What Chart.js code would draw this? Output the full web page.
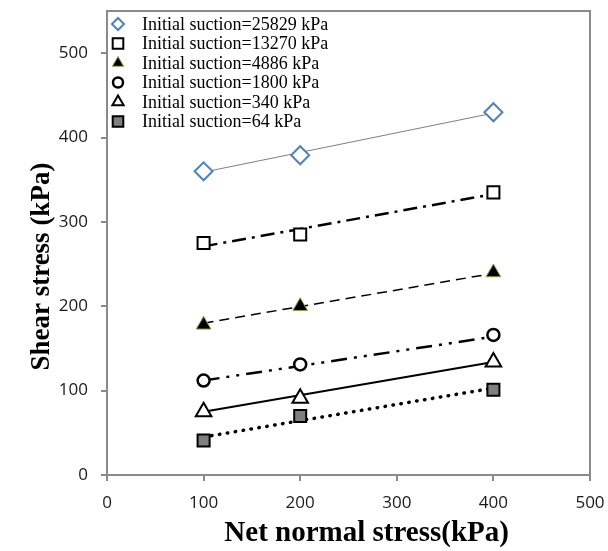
<!DOCTYPE html>
<html>
<head>
<meta charset="utf-8">
<script src="https://cdn.jsdelivr.net/npm/chart.js@4"></script>
<style>
  html, body { margin: 0; padding: 0; background: #fff; }
  #wrap { width: 608px; height: 551px; position: relative; }
</style>
</head>
<body>
<div id="wrap"><canvas id="shearChart"></canvas></div>
<script>
// Net normal stress (kPa) at which the tests were run
const netStress = [100, 200, 400];

// Measured shear stress (kPa) for each initial suction
const shear25829 = [360, 379, 430];
const shear13270 = [275, 285, 335];
const shear4886 = [178, 200, 240];
const shear1800 = [112, 131, 166];
const shear340 = [75, 91, 134];
const shear64 = [41, 70, 101];

// Trend lines, read at their two ends
const trendX = [100, 400];
const trend25829 = [359, 429];
const trend13270 = [271, 333];
const trend4886 = [180, 239];
const trend1800 = [112, 164];
const trend340 = [75, 134];
const trend64 = [45, 103];

const suctionLabels = [
  "Initial suction=25829 kPa",
  "Initial suction=13270 kPa",
  "Initial suction=4886 kPa",
  "Initial suction=1800 kPa",
  "Initial suction=340 kPa",
  "Initial suction=64 kPa",
];

const xTicks = [0, 100, 200, 300, 400, 500];
const yTicks = [0, 100, 200, 300, 400, 500];

const AXIS_GREY = "#8a8a8a";
const SERIF = "'Liberation Serif', 'Times New Roman', serif";

function toPoints(xs, ys) {
  return xs.map((x, i) => ({ x: x, y: ys[i] }));
}

// marker series (shown in legend)
const markerSets = [
  { label: suctionLabels[0], data: toPoints(netStress, shear25829), pointStyle: "rectRot", pointRadius: 9,
    pointBackgroundColor: "#fff", pointBorderColor: "#4f81bd", pointBorderWidth: 2, legendRadius: 6 },
  { label: suctionLabels[1], data: toPoints(netStress, shear13270), pointStyle: "rect", pointRadius: 8.5,
    pointBackgroundColor: "#fff", pointBorderColor: "#000", pointBorderWidth: 2, legendRadius: 7.5 },
  { label: suctionLabels[2], data: toPoints(netStress, shear4886), pointStyle: "triangle", pointRadius: 8.5,
    pointBackgroundColor: "#000", pointBorderColor: "#8aa84a", pointBorderWidth: 1, legendRadius: 6.5 },
  { label: suctionLabels[3], data: toPoints(netStress, shear1800), pointStyle: "circle", pointRadius: 6,
    pointBackgroundColor: "#fff", pointBorderColor: "#000", pointBorderWidth: 2.5, legendRadius: 5 },
  { label: suctionLabels[4], data: toPoints(netStress, shear340), pointStyle: "triangle", pointRadius: 9,
    pointBackgroundColor: "#fff", pointBorderColor: "#000", pointBorderWidth: 2, legendRadius: 6.5 },
  { label: suctionLabels[5], data: toPoints(netStress, shear64), pointStyle: "rect", pointRadius: 8.5,
    pointBackgroundColor: "#7f7f7f", pointBorderColor: "#000", pointBorderWidth: 2, legendRadius: 7.5 },
];

// trend lines (not in legend)
const trendSets = [
  { data: toPoints(trendX, trend25829), borderColor: "#7f7f7f", borderWidth: 1, borderDash: [] },
  { data: toPoints(trendX, trend13270), borderColor: "#000", borderWidth: 2.5, borderDash: [14, 6, 3, 6] },
  { data: toPoints(trendX, trend4886), borderColor: "#000", borderWidth: 1.5, borderDash: [10, 6] },
  { data: toPoints(trendX, trend1800), borderColor: "#000", borderWidth: 2.5, borderDash: [16, 7, 3, 7, 3, 7] },
  { data: toPoints(trendX, trend340), borderColor: "#000", borderWidth: 2, borderDash: [] },
  { data: toPoints(trendX, trend64), borderColor: "#000", borderWidth: 3.5, borderDash: [0.5, 7.5], borderCapStyle: "round" },
];

const datasets = [];
markerSets.forEach((m) => {
  datasets.push(Object.assign({ type: "scatter", showLine: false, isMarker: true, order: 0 }, m));
});
trendSets.forEach((t) => {
  datasets.push(Object.assign({ type: "scatter", showLine: true, pointRadius: 0, pointHoverRadius: 0,
    fill: false, isMarker: false, order: 1 }, t));
});

// plot area frame (top & right edges like the excel box)
const frame = {
  id: "frame",
  beforeDatasetsDraw(chart) {
    const { ctx, chartArea: a } = chart;
    ctx.save();
    ctx.strokeStyle = AXIS_GREY;
    ctx.lineWidth = 2;
    ctx.beginPath();
    ctx.moveTo(a.left, a.top);
    ctx.lineTo(a.right, a.top);
    ctx.lineTo(a.right, a.bottom);
    ctx.stroke();
    ctx.restore();
  },
};

// legend drawn inside the plot, top-left
const insideLegend = {
  id: "insideLegend",
  afterDraw(chart) {
    const { ctx, chartArea: a } = chart;
    ctx.save();
    chart.data.datasets.filter((d) => d.isMarker).forEach((d, i) => {
      const x = a.left + 11;
      const y = a.top + 13 + i * 19.5;
      ctx.fillStyle = d.pointBackgroundColor;
      ctx.strokeStyle = d.pointBorderColor;
      ctx.lineWidth = d.pointBorderWidth;
      Chart.helpers.drawPoint(ctx, {
        pointStyle: d.pointStyle, radius: d.legendRadius, rotation: 0, borderWidth: d.pointBorderWidth,
      }, x, y);
      ctx.fillStyle = "#000";
      ctx.font = "18px " + SERIF;
      ctx.textBaseline = "middle";
      ctx.textAlign = "left";
      ctx.fillText(d.label, a.left + 35, y + 1);
    });
    ctx.restore();
  },
};

const ctx = document.getElementById("shearChart").getContext("2d");
const shearChart = new Chart(ctx, {
  data: { datasets: datasets },
  options: {
    responsive: true,
    maintainAspectRatio: false,
    animation: false,
    layout: { padding: { top: 10, right: 18, left: 0, bottom: 0 } },
    plugins: {
      legend: { display: false },
      tooltip: { enabled: false },
    },
    scales: {
      x: {
        type: "linear",
        min: 0,
        max: 500,
        afterBuildTicks: (s) => { s.ticks = xTicks.map((v) => ({ value: v })); },
        afterFit: (s) => { s.height = 76; s.paddingLeft = 0; s.paddingRight = 0; },
        border: { color: AXIS_GREY, width: 2 },
        grid: { drawOnChartArea: false, drawTicks: true, tickLength: 6, color: AXIS_GREY, lineWidth: 2 },
        ticks: { color: "#1a1a1a", padding: 12, font: { family: "'Open Sans'", size: 17 } },
        title: {
          display: true,
          text: "     Net normal stress(kPa)",
          color: "#000",
          font: { family: SERIF, size: 29, weight: "bold" },
          padding: { top: 0, bottom: 0 },
        },
      },
      y: {
        type: "linear",
        min: 0,
        max: 550,
        afterBuildTicks: (s) => { s.ticks = yTicks.map((v) => ({ value: v })); },
        afterFit: (s) => { s.width = 107; s.paddingTop = 0; s.paddingBottom = 0; },
        border: { color: AXIS_GREY, width: 2 },
        grid: { drawOnChartArea: false, drawTicks: true, tickLength: 6, color: AXIS_GREY, lineWidth: 2 },
        ticks: { color: "#1a1a1a", padding: 13, font: { family: "'Open Sans'", size: 17 } },
        title: {
          display: true,
          text: "Shear stress (kPa)       ",
          color: "#000",
          font: { family: SERIF, size: 27, weight: "bold" },
          padding: { top: 26, bottom: 0 },
        },
      },
    },
  },
  plugins: [frame, insideLegend],
});
</script>
</body>
</html>
